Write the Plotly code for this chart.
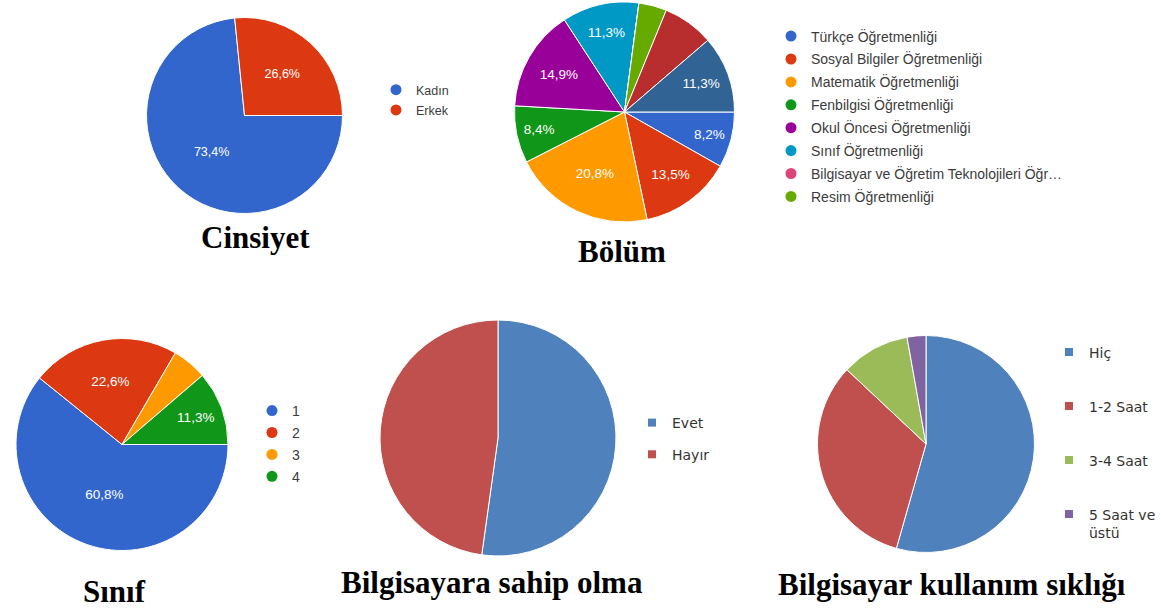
import plotly.graph_objects as go

W, H = 1161, 609

# ---------------- data ----------------
cinsiyet_labels = ["Kadın", "Erkek"]
cinsiyet_values = [73.4, 26.6]
cinsiyet_colors = ["#3366cc", "#dc3912"]

bolum_labels = [
    "Türkçe Öğretmenliği",
    "Sosyal Bilgiler Öğretmenliği",
    "Matematik Öğretmenliği",
    "Fenbilgisi Öğretmenliği",
    "Okul Öncesi Öğretmenliği",
    "Sınıf Öğretmenliği",
    "Bilgisayar ve Öğretim Teknolojileri Öğr…",
    "Resim Öğretmenliği",
    "Diğer 1",
    "Diğer 2",
]
bolum_values = [8.2, 13.5, 20.8, 8.4, 14.9, 11.3, 0.0, 4.1, 7.5, 11.3]
bolum_show_pct = [True, True, True, True, True, True, False, False, False, True]
bolum_colors = ["#3366cc", "#dc3912", "#ff9900", "#109618", "#990099",
                "#0099c6", "#dd4477", "#66aa00", "#b82e2e", "#316395"]
bolum_legend_count = 8

sinif_labels = ["1", "2", "3", "4"]
sinif_values = [60.8, 22.6, 5.3, 11.3]
sinif_show_pct = [True, True, False, True]
sinif_colors = ["#3366cc", "#dc3912", "#ff9900", "#109618"]

sahip_labels = ["Evet", "Hayır"]
sahip_values = [52.2, 47.8]
sahip_colors = ["#4f81bd", "#c0504d"]

siklik_labels = ["Hiç", "1-2 Saat", "3-4 Saat", "5 Saat ve üstü"]
siklik_legend_text = ["Hiç", "1-2 Saat", "3-4 Saat", "5 Saat ve<br>üstü"]
siklik_values = [54.4, 32.6, 10.2, 2.8]
siklik_colors = ["#4f81bd", "#c0504d", "#9bbb59", "#8064a2"]

titles = ["Cinsiyet", "Bölüm", "Sınıf", "Bilgisayara sahip olma", "Bilgisayar kullanım sıklığı"]

# ---------------- layout helpers ----------------
def dom(cx, cy, r):
    return dict(x=[(cx - r) / W, (cx + r) / W], y=[1 - (cy + r) / H, 1 - (cy - r) / H])

def px(x):
    return x / W

def py(y):
    return 1 - y / H

GFONT = "Liberation Sans, Arial, sans-serif"
XFONT = "DejaVu Sans, Verdana, sans-serif"

fig = go.Figure()

def pie(labels, values, colors, domain, rotation, show=None, fsize=13):
    if show is None:
        tmpl = "%{percent:.1%}"
    else:
        tmpl = ["%{percent:.1%}" if s else "" for s in show]
    return go.Pie(
        labels=labels, values=values, sort=False, direction="clockwise",
        rotation=rotation, domain=domain,
        marker=dict(colors=colors, line=dict(color="white", width=1)),
        texttemplate=tmpl, textposition="inside", insidetextorientation="horizontal",
        textfont=dict(color="white", size=fsize, family=GFONT),
        showlegend=False, hoverinfo="label+percent",
    )

fig.add_trace(pie(cinsiyet_labels, cinsiyet_values, cinsiyet_colors, dom(244.5, 115.5, 98), 90, fsize=12.5))
fig.add_trace(pie(bolum_labels, bolum_values, bolum_colors, dom(624.5, 112, 110), 90, show=bolum_show_pct, fsize=13.5))
fig.add_trace(pie(sinif_labels, sinif_values, sinif_colors, dom(122, 444.5, 106), 90, show=sinif_show_pct, fsize=13.5))
fig.add_trace(pie(sahip_labels, sahip_values, sahip_colors, dom(498, 438, 118), 0, show=[False, False]))
fig.add_trace(pie(siklik_labels, siklik_values, siklik_colors, dom(926, 444, 108.5), 0, show=[False] * 4))

# ---------------- legends (dummy marker traces) ----------------
def legend_items(names, colors, legend, symbol, size):
    for n, c in zip(names, colors):
        fig.add_trace(go.Scatter(
            x=[None], y=[None], mode="markers", name=n, legend=legend, legendgroup=legend + n,
            marker=dict(color=c, symbol=symbol, size=size), hoverinfo="skip",
        ))

legend_items(cinsiyet_labels, cinsiyet_colors, "legend", "circle", 11)
legend_items(bolum_labels[:bolum_legend_count], bolum_colors[:bolum_legend_count], "legend2", "circle", 11)
legend_items(sinif_labels, sinif_colors, "legend3", "circle", 11)
legend_items(sahip_labels, sahip_colors, "legend4", "square", 8)
legend_items(siklik_legend_text, siklik_colors, "legend5", "square", 8)

def leg(x, y, font, size, gap, color, valign="middle"):
    return dict(x=px(x), y=py(y), xanchor="left", yanchor="top", bgcolor="rgba(0,0,0,0)",
                borderwidth=0, traceorder="grouped", tracegroupgap=gap, valign=valign,
                font=dict(family=font, size=size, color=color), itemclick=False, itemdoubleclick=False)

ann = []
title_pos = [(255, 237), (622, 252), (114, 591.5), (491.5, 582), (952, 584)]
for t, (x, y) in zip(titles, title_pos):
    ann.append(dict(text=f"<b>{t}</b>", x=px(x), y=py(y), xref="paper", yref="paper",
                    xanchor="center", yanchor="middle", showarrow=False,
                    font=dict(family="Liberation Serif, Times New Roman, serif", size=31, color="black")))

fig.update_layout(
    width=W, height=H, margin=dict(l=0, r=0, t=0, b=0),
    paper_bgcolor="white", plot_bgcolor="white",
    separators=",.",
    xaxis=dict(visible=False), yaxis=dict(visible=False),
    legend=leg(376, 75, GFONT, 12.5, 1, "#3c3c3c"),
    legend2=leg(771, 20.5, GFONT, 14, 1.7, "#3c3c3c"),
    legend3=leg(252, 395, GFONT, 14, 0.7, "#3c3c3c"),
    legend4=leg(632, 407, XFONT, 14, 10.5, "#333333"),
    legend5=leg(1049, 336.5, XFONT, 14, 32.8, "#333333", valign="top"),
    annotations=ann,
)

fig.write_html("out.html", config={"displayModeBar": False},
               post_script="document.body.style.margin='0px';")
